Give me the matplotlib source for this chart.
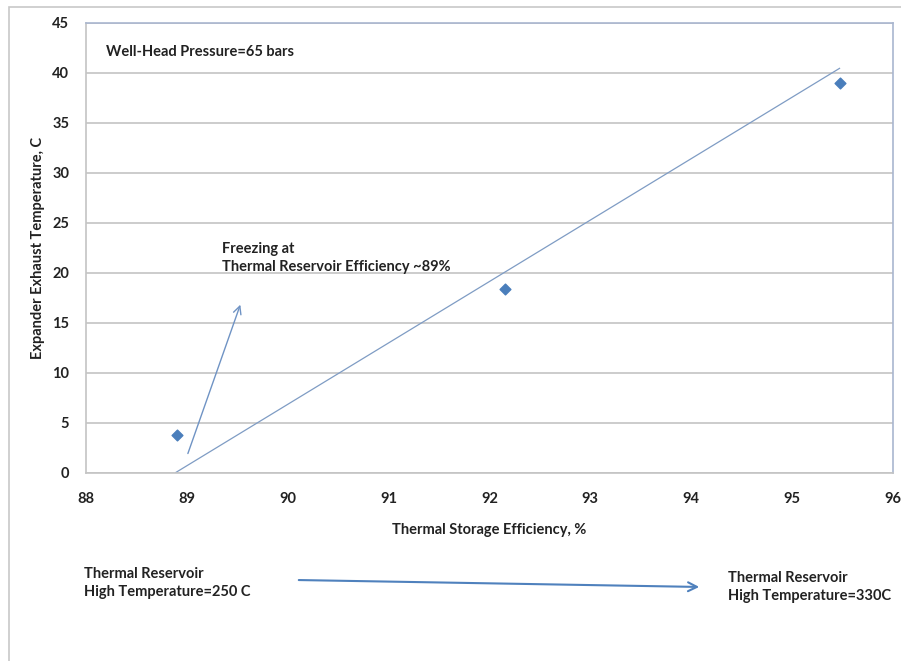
import matplotlib
matplotlib.use("Agg")
import matplotlib.pyplot as plt
from matplotlib.patches import Rectangle, FancyArrowPatch

# Data
efficiency = [88.905, 92.15, 95.47]
exhaust_temp = [3.72, 18.34, 38.96]
trend_x = [88.89, 95.47]
trend_y = [0.0, 40.46]
freeze_arrow_x = [89.01, 89.53]
freeze_arrow_y = [1.9, 16.8]
x_ticks = [88, 89, 90, 91, 92, 93, 94, 95, 96]
y_ticks = [0, 5, 10, 15, 20, 25, 30, 35, 40, 45]

plt.rcParams['font.family'] = ['Lato', 'DejaVu Sans']

W, H = 901, 661
fig = plt.figure(figsize=(W / 100, H / 100), dpi=100)

# outer chart frame
fig.patches.append(Rectangle((9 / W, -0.05), 1.1, (H - 7) / H + 0.05,
                             transform=fig.transFigure, fill=False,
                             edgecolor='#c8c8c8', linewidth=1.2))

left, right, top, bottom = 86, 893, 23, 472.5
ax = fig.add_axes([left / W, 1 - bottom / H, (right - left) / W, (bottom - top) / H])

ax.set_xlim(88, 96)
ax.set_ylim(0, 45)
ax.set_xticks(x_ticks)
ax.set_yticks(y_ticks)
ax.tick_params(length=0, labelsize=10.5, colors='#222222')
ax.tick_params(axis='x', pad=14)
ax.tick_params(axis='y', pad=12)
for lab in ax.get_xticklabels() + ax.get_yticklabels():
    lab.set_fontweight('bold')
ax.grid(axis='y', color='#c4c4c4', linewidth=1.2)
ax.set_axisbelow(True)
for s in ['left', 'bottom']:
    ax.spines[s].set_color('#c4c4c4')
    ax.spines[s].set_linewidth(1.2)
for s in ['top', 'right']:
    ax.spines[s].set_color('#a9b6cf')
    ax.spines[s].set_linewidth(1.2)

ax.plot(trend_x, trend_y, color='#7f9cc4', linewidth=0.9)
ax.scatter(efficiency, exhaust_temp, marker='D', s=30, color='#4a7ebb', zorder=3)

ax.annotate('', xy=(freeze_arrow_x[1], freeze_arrow_y[1]),
            xytext=(freeze_arrow_x[0], freeze_arrow_y[0]),
            arrowprops=dict(arrowstyle='->', color='#6f93c4', lw=1.0,
                            mutation_scale=14, shrinkA=0, shrinkB=0))

ax.set_xlabel('Thermal Storage Efficiency, %', fontsize=10.5, fontweight='bold',
              color='#222222', labelpad=12)
ax.set_ylabel('Expander Exhaust Temperature, C', fontsize=10.5, fontweight='bold',
              color='#222222', labelpad=5)

def fx(px):
    return px / W

def fy(py):
    return 1 - py / H

fig.text(fx(106), fy(52), 'Well-Head Pressure=65 bars', fontsize=10.5,
         fontweight='bold', color='#222222', va='center', ha='left')
fig.text(fx(222), fy(258), 'Freezing at\nThermal Reservoir Efficiency ~89%',
         fontsize=10.5, fontweight='bold', color='#222222', va='center', ha='left',
         linespacing=1.45)
fig.text(fx(84), fy(583), 'Thermal Reservoir\nHigh Temperature=250 C',
         fontsize=10.5, fontweight='bold', color='#222222', va='center', ha='left',
         linespacing=1.45)
fig.text(fx(728), fy(587), 'Thermal Reservoir\nHigh Temperature=330C',
         fontsize=10.5, fontweight='bold', color='#222222', va='center', ha='left',
         linespacing=1.45)

fig.patches.append(FancyArrowPatch((fx(296), fy(580)), (fx(702), fy(587)),
                                   transform=fig.transFigure, arrowstyle='->',
                                   color='#4f81bd', lw=1.5, mutation_scale=16))

fig.savefig('out.png', dpi=100)
